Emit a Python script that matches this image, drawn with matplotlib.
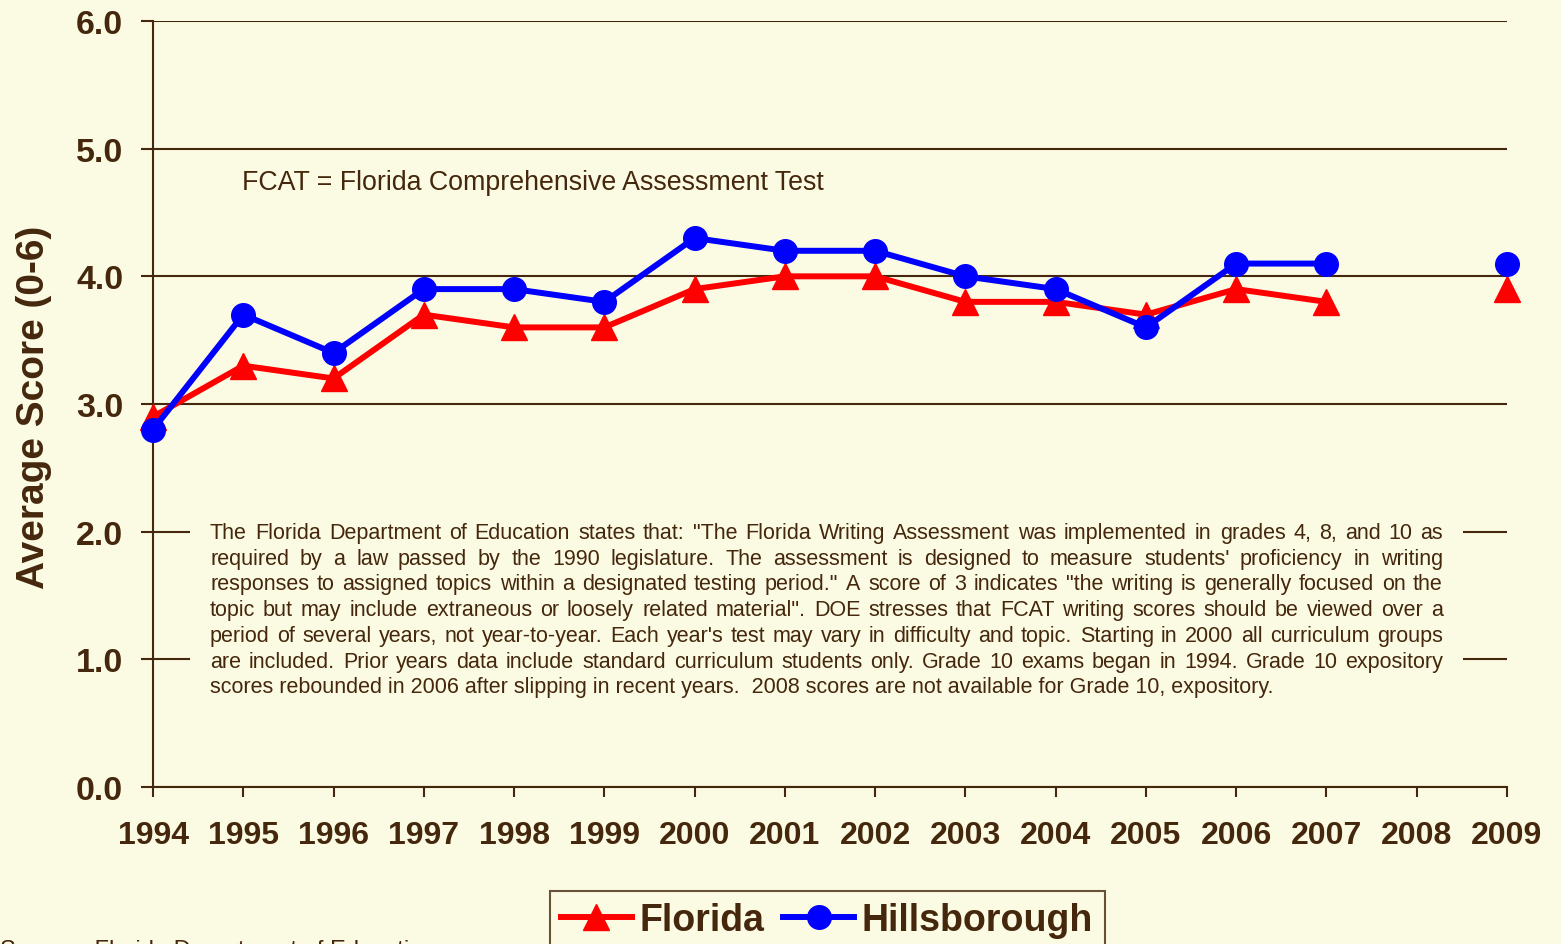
import numpy as np
import matplotlib
matplotlib.use('Agg')
import matplotlib.pyplot as plt
from matplotlib import font_manager
from matplotlib.patches import Rectangle
from matplotlib.lines import Line2D

years = list(range(1994, 2010))
florida = [2.9, 3.3, 3.2, 3.7, 3.6, 3.6, 3.9, 4.0, 4.0, 3.8, 3.8, 3.7, 3.9, 3.8, np.nan, 3.9]
hillsborough = [2.8, 3.7, 3.4, 3.9, 3.9, 3.8, 4.3, 4.2, 4.2, 4.0, 3.9, 3.6, 4.1, 4.1, np.nan, 4.1]
y_ticks = [0, 1, 2, 3, 4, 5, 6]

note_lines = [
    'The Florida Department of Education states that: "The Florida Writing Assessment was implemented in grades 4, 8, and 10 as',
    "required by a law passed by the 1990 legislature. The assessment is designed to measure students' proficiency in writing",
    'responses to assigned topics within a designated testing period."  A score of 3 indicates "the writing is generally focused on the',
    'topic but may include extraneous or loosely related material".  DOE stresses that FCAT writing scores should be viewed over a',
    "period of several years, not year-to-year.  Each year's test may vary in difficulty and topic.  Starting in 2000 all curriculum groups",
    'are included.  Prior years data include standard curriculum students only.  Grade 10 exams began in 1994. Grade 10 expository',
    'scores rebounded in 2006 after slipping in recent years.  2008 scores are not available for Grade 10, expository.',
]

BG = '#FBFBE4'
INK = '#44270C'
W, H = 1561, 945

plt.rcParams['font.family'] = ['Liberation Sans', 'DejaVu Sans']

# narrow face for the note if it is there
names = {f.name for f in font_manager.fontManager.ttflist}
if 'Liberation Sans Narrow' in names:
    note_font = dict(family=['Liberation Sans Narrow', 'Liberation Sans'], fontsize=18.7)
else:
    note_font = dict(family=['Liberation Sans', 'DejaVu Sans'], fontsize=15.5)

fig = plt.figure(figsize=(W / 100, H / 100), dpi=100, facecolor=BG)
ax = fig.add_axes([153 / W, 1 - 788 / H, (1507 - 153) / W, (788 - 22) / H])
ax.set_facecolor(BG)

ax.set_xlim(1994, 2009)
ax.set_ylim(0, 6)
ax.set_xticks(years)
ax.set_yticks(y_ticks)
ax.set_yticklabels([f'{v:.1f}' for v in y_ticks])
ax.tick_params(axis='x', direction='out', length=7, width=1.5, color=INK, pad=17,
               labelsize=23, labelcolor=INK)
ax.tick_params(axis='y', direction='out', length=8.5, width=1.5, color=INK, pad=13,
               labelsize=24.5, labelcolor=INK)
for lab in ax.get_xticklabels() + ax.get_yticklabels():
    lab.set_fontweight('bold')

for s in ['top', 'right']:
    ax.spines[s].set_visible(False)
for s in ['left', 'bottom']:
    ax.spines[s].set_color(INK)
    ax.spines[s].set_linewidth(1.5)
    ax.spines[s].set_zorder(2)

ax.yaxis.grid(True, color=INK, linewidth=1.5)
ax.set_axisbelow(True)

# box behind the note hides the grid lines
ax.add_patch(Rectangle(((190 - 153) / 1354, (788 - 705) / 766), 1273 / 1354, 190 / 766,
                       transform=ax.transAxes, zorder=1, facecolor=BG, edgecolor='none'))

ax.plot(years, florida, color='#FF0000', linewidth=4.3, marker='^', markersize=19,
        clip_on=False, zorder=3, label='Florida')
ax.plot(years, hillsborough, color='#0000FF', linewidth=4.3, marker='o', markersize=17,
        clip_on=False, zorder=4, label='Hillsborough')

fig.text(242 / W, 1 - 183 / H, 'FCAT = Florida Comprehensive Assessment Test',
         fontsize=19.3, color=INK, va='center', ha='left')

fig.text(34 / W, 1 - 407 / H, 'Average Score (0-6)', rotation=90, fontsize=28,
         fontweight='bold', color=INK, va='center', ha='center')

# justified note, words placed on a common whole-pixel baseline
renderer = fig.canvas.get_renderer()
x0, x1 = 210, 1443
for i, line in enumerate(note_lines):
    yb = (H - round(539 + i * 25.7)) / H
    words = line.split()
    if i == len(note_lines) - 1:
        fig.text(x0 / W, yb, line, color=INK, va='baseline', ha='left', **note_font)
        continue
    texts = [fig.text(0, yb, w, color=INK, va='baseline', ha='left', **note_font)
             for w in words]
    widths = [t.get_window_extent(renderer).width for t in texts]
    gap = (x1 - x0 - sum(widths)) / (len(words) - 1)
    x = x0
    for t, wd in zip(texts, widths):
        t.set_x(round(x) / W)
        x += wd + gap

fig.text(0, 1 - 940 / H, 'Source:  Florida Department of Education', fontsize=17,
         color=INK, va='top', ha='left')

handles = [Line2D([], [], color='#FF0000', linewidth=4.3, marker='^', markersize=19),
           Line2D([], [], color='#0000FF', linewidth=4.3, marker='o', markersize=17)]
leg = fig.legend(handles, ['Florida', 'Hillsborough'], loc='upper center',
                 bbox_to_anchor=(827 / W, 1 - 892 / H), ncol=2, frameon=True,
                 fancybox=False, borderaxespad=0, handlelength=1.9, handletextpad=0.2,
                 columnspacing=0.5, borderpad=0.3,
                 prop={'size': 27, 'weight': 'bold'})
leg.get_frame().set_facecolor(BG)
leg.get_frame().set_edgecolor(INK)
leg.get_frame().set_linewidth(1.5)
for t in leg.get_texts():
    t.set_color(INK)

fig.savefig('out.png', dpi=100, facecolor=BG)
